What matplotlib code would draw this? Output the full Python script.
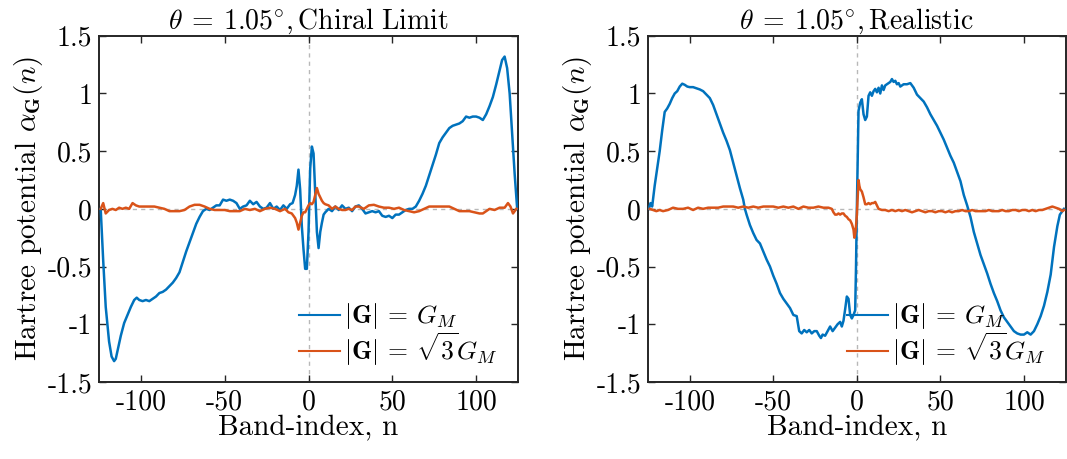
import matplotlib
matplotlib.use("Agg")
import matplotlib.pyplot as plt

plt.rcParams["font.family"] = "serif"
plt.rcParams["font.serif"] = ["cmr10", "DejaVu Serif"]
plt.rcParams["mathtext.fontset"] = "cm"
plt.rcParams["axes.formatter.use_mathtext"] = True

BLUE = (0.0, 0.447, 0.741)
ORANGE = (0.85, 0.325, 0.098)

# --- Chiral limit panel ---
chiral_blue_x = [-124, -122.5, -121, -119, -117.5, -116, -115, -113.5, -112, -110, -108, -106, -104,
                 -102.5, -101, -99, -97, -95, -93, -91, -89, -87, -85, -83, -81, -79, -77, -75, -73,
                 -71, -69, -67, -65, -63, -61, -59, -57, -55, -53, -51, -49, -47, -45, -43, -41, -39,
                 -37, -35, -33, -31, -29, -27, -25, -23, -21, -19, -17, -15, -13, -11, -9.5, -8, -7,
                 -6, -5, -4, -3, -2, -1, 0, 1, 2, 3, 4, 5, 6, 7, 8, 9, 10, 12, 14, 16, 18, 20, 22, 24,
                 26, 28, 30, 32, 34, 36, 38, 40, 42, 44, 46, 48, 50, 52, 54, 56, 58, 60, 62, 64, 66,
                 68, 70, 72, 74, 76, 78, 80, 82, 84, 86, 88, 90, 92, 94, 96, 98, 100, 102, 104, 106,
                 108, 110, 112, 114, 115.5, 117, 118.5, 120, 121.5, 123, 124.5]
chiral_blue_y = [0.0, -0.45, -0.85, -1.15, -1.28, -1.32, -1.30, -1.20, -1.10, -0.99, -0.92, -0.85,
                 -0.79, -0.77, -0.79, -0.80, -0.79, -0.80, -0.78, -0.76, -0.73, -0.72, -0.70, -0.67,
                 -0.64, -0.60, -0.55, -0.46, -0.37, -0.29, -0.21, -0.13, -0.07, -0.02, 0.0, -0.01,
                 0.01, 0.03, 0.03, 0.08, 0.07, 0.08, 0.07, 0.05, 0.0, 0.02, 0.03, 0.07, 0.04, 0.06,
                 0.02, 0.0, 0.01, 0.05, 0.0, 0.02, -0.01, 0.03, 0.0, 0.04, 0.05, 0.12, 0.2, 0.34,
                 0.17, -0.15, -0.35, -0.52, -0.52, -0.2, 0.35, 0.54, 0.48, 0.15, -0.2, -0.34, -0.2,
                 -0.12, -0.05, -0.03, 0.0, -0.02, 0.02, -0.01, 0.03, 0.0, 0.01, -0.02, 0.02, 0.03,
                 0.0, -0.04, -0.03, -0.02, -0.03, -0.02, -0.06, -0.07, -0.06, -0.08, -0.05, -0.05,
                 -0.03, -0.01, 0.0, 0.0, 0.02, 0.07, 0.13, 0.2, 0.29, 0.38, 0.47, 0.57, 0.62, 0.66,
                 0.70, 0.72, 0.73, 0.74, 0.76, 0.80, 0.79, 0.80, 0.80, 0.79, 0.77, 0.82, 0.89, 0.97,
                 1.08, 1.20, 1.29, 1.32, 1.22, 1.00, 0.65, 0.30, 0.0]

chiral_orange_x = [-124, -122.5, -121, -119, -117, -115, -113, -111, -109, -107, -105, -103, -101,
                   -98, -95, -92, -89, -86, -83, -80, -77, -74, -71, -68, -65, -62, -59, -56, -53,
                   -50, -47, -44, -41, -38, -35, -32, -29, -26, -23, -20, -17, -14, -12, -10, -8,
                   -7, -6, -5, -4, -3, -2, -1, 0, 1, 2, 3, 4, 5, 6, 7, 8, 9, 10, 12, 14, 16, 18, 20,
                   22, 24, 26, 28, 30, 33, 36, 39, 42, 45, 48, 51, 54, 57, 60, 63, 66, 69, 72, 75,
                   78, 81, 84, 87, 90, 93, 96, 99, 102, 104, 106, 108, 111, 114, 117, 119, 120.5,
                   122, 124]
chiral_orange_y = [0.0, 0.05, -0.04, -0.01, 0.0, -0.01, 0.01, 0.0, 0.01, 0.0, 0.05, 0.03, 0.02,
                   0.02, 0.02, 0.02, 0.01, 0.0, -0.02, -0.02, -0.02, -0.01, 0.02, 0.035, 0.035,
                   0.02, 0.0, -0.01, -0.01, -0.01, -0.02, -0.02, -0.02, 0.0, -0.01, 0.0, -0.02,
                   0.0, 0.01, 0.0, -0.02, 0.0, -0.03, -0.04, -0.08, -0.12, -0.18, -0.12, -0.06,
                   -0.03, -0.03, 0.0, 0.03, 0.05, 0.04, 0.06, 0.12, 0.18, 0.13, 0.10, 0.07, 0.05,
                   0.04, 0.03, 0.0, 0.02, 0.0, -0.01, -0.01, 0.0, -0.01, 0.02, 0.02, 0.0, 0.03,
                   0.035, 0.02, 0.01, 0.01, 0.0, 0.01, -0.01, -0.02, -0.03, -0.02, 0.0, 0.02, 0.02,
                   0.02, 0.02, 0.02, 0.0, -0.02, -0.02, -0.02, -0.03, -0.04, -0.04, -0.02, 0.0,
                   -0.01, 0.01, 0.01, 0.05, 0.02, -0.04, 0.0]

# --- Realistic panel ---
real_blue_x = [-124.5, -123.5, -122.5, -121, -119.5, -118, -116.5, -115, -113.5, -112, -110.5,
               -109, -107.5, -106, -104.5, -103, -101.5, -100, -98, -96, -94, -92, -90, -88, -86,
               -84, -82, -80, -78, -76, -74, -72, -70, -68, -67, -66, -64, -62, -60, -58, -56, -54,
               -52, -50, -48, -46, -44, -42, -40, -38, -36, -34.5, -33, -31.5, -30, -28.5, -27,
               -25.5, -24, -22.5, -21.5, -20.5, -19, -17.5, -16, -14.5, -13, -11.5, -10, -9, -8,
               -7, -6, -5, -4, -3, -2, -1, -0.5, 0, 0.5, 1, 2, 3, 4, 5, 6, 7, 8, 9, 10, 11, 12, 13,
               14, 15, 16, 17, 18, 20, 21, 22, 23, 24, 25, 26, 28, 30, 32, 34, 36, 38, 40, 42, 44,
               46, 48, 50, 52, 54, 56, 58, 60, 62, 64, 66, 68, 70, 72, 74, 76, 78, 80, 82, 84, 86,
               88, 90, 92, 94, 96, 98, 100, 102, 104, 106, 108, 110, 112, 114, 116, 118, 120,
               121.5, 122.5, 124]
real_blue_y = [0.0, 0.05, 0.02, 0.2, 0.35, 0.5, 0.68, 0.84, 0.87, 0.91, 0.96, 1.0, 1.02, 1.06,
               1.085, 1.075, 1.06, 1.055, 1.055, 1.045, 1.035, 1.02, 0.99, 0.96, 0.9, 0.82, 0.74,
               0.66, 0.59, 0.51, 0.4, 0.29, 0.18, 0.08, 0.0, -0.05, -0.14, -0.21, -0.27, -0.3,
               -0.37, -0.44, -0.5, -0.58, -0.65, -0.73, -0.78, -0.82, -0.86, -0.92, -0.93, -1.06,
               -1.08, -1.05, -1.07, -1.05, -1.08, -1.06, -1.06, -1.1, -1.12, -1.09, -1.1, -1.06,
               -1.02, -1.06, -1.03, -1.0, -0.98, -1.02, -0.97, -0.87, -0.76, -0.78, -0.92, -0.95,
               -0.92, -0.88, -0.5, 0.0, 0.4, 0.85, 0.92, 0.95, 0.82, 0.77, 0.8, 0.98, 1.01, 0.98,
               1.02, 1.04, 1.01, 1.05, 1.0, 1.07, 1.03, 1.07, 1.08, 1.1, 1.125, 1.1, 1.11, 1.08,
               1.09, 1.06, 1.08, 1.08, 1.09, 1.05, 0.99, 0.96, 0.93, 0.88, 0.82, 0.77, 0.72, 0.66,
               0.6, 0.53, 0.46, 0.4, 0.32, 0.24, 0.12, 0.03, -0.07, -0.2, -0.3, -0.4, -0.48,
               -0.56, -0.65, -0.73, -0.8, -0.88, -0.94, -0.98, -1.02, -1.06, -1.08, -1.09, -1.09,
               -1.07, -1.09, -1.06, -1.0, -0.93, -0.84, -0.72, -0.57, -0.33, -0.15, -0.05, -0.03,
               0.0]

real_orange_x = [-124, -122, -120, -118, -116, -113, -110, -107, -104, -101, -98, -95, -92, -89,
                 -86, -83, -80, -77, -74, -71, -68, -65, -62, -59, -56, -53, -50, -47, -44, -41,
                 -38, -35, -32, -29, -26, -23, -20, -17, -15, -14, -13, -12, -11, -10, -9, -8, -7,
                 -6, -5, -4, -3, -2, -1.5, -1, -0.5, 0, 0.5, 1, 1.5, 2, 3, 4, 5, 6, 7, 8, 9, 10, 11,
                 12, 13, 15, 17, 19, 21, 23, 25, 27, 29, 31, 33, 35, 37, 39, 41, 43, 45, 47, 49, 51,
                 53, 55, 57, 59, 61, 63, 65, 67, 69, 71, 73, 75, 77, 79, 81, 83, 85, 87, 89, 91,
                 93, 95, 97, 99, 101, 103, 105, 107, 109, 111, 113, 115, 117, 119, 121, 123, 124]
real_orange_y = [0.0, -0.01, -0.02, -0.01, -0.02, -0.01, 0.01, 0.0, 0.0, 0.01, -0.01, 0.01, 0.0,
                 0.01, 0.01, 0.01, 0.02, 0.02, 0.02, 0.01, 0.02, 0.01, 0.02, 0.01, 0.02, 0.02,
                 0.02, 0.01, 0.02, 0.01, 0.02, 0.0, 0.02, 0.01, 0.01, 0.02, 0.01, 0.01, 0.0, -0.03,
                 -0.05, -0.05, -0.04, -0.05, -0.04, -0.04, -0.06, -0.07, -0.09, -0.1, -0.13, -0.18,
                 -0.25, -0.22, -0.15, -0.05, 0.1, 0.25, 0.2, 0.17, 0.15, 0.1, 0.04, 0.04, 0.05,
                 0.04, 0.05, 0.05, 0.06, 0.03, 0.0, -0.01, -0.01, -0.02, -0.01, -0.02, -0.01,
                 -0.02, -0.01, -0.02, -0.03, -0.02, -0.01, -0.02, -0.03, -0.02, -0.02, -0.03,
                 -0.02, -0.02, -0.03, -0.02, -0.03, -0.02, -0.02, -0.01, -0.02, -0.02, -0.01,
                 -0.02, -0.02, -0.02, -0.02, -0.01, -0.02, -0.02, -0.02, -0.01, -0.02, -0.02,
                 -0.01, -0.01, -0.02, -0.01, -0.01, -0.02, -0.01, -0.02, -0.01, -0.01, 0.0, 0.01,
                 0.02, 0.01, 0.0, -0.02, -0.01]

titles = [r"$\theta\:=\:1.05^{\circ}, \mathrm{Chiral\ Limit}$",
          r"$\theta\:=\:1.05^{\circ}, \mathrm{Realistic}$"]
x_ticks = [-100, -50, 0, 50, 100]
x_tick_labels = ["-100", "-50", "0", "50", "100"]
y_ticks = [-1.5, -1, -0.5, 0, 0.5, 1, 1.5]
y_tick_labels = ["-1.5", "-1", "-0.5", "0", "0.5", "1", "1.5"]
legend_labels = [r"$|\mathbf{G}|\:=\,G_M$", r"$|\mathbf{G}|\:=\,\sqrt{3}G_M$"]

fig = plt.figure(figsize=(10.67, 4.59), dpi=100)
ax_left = fig.add_axes([0.0928, 0.168, 0.3927, 0.754])
ax_right = fig.add_axes([0.6073, 0.168, 0.3915, 0.754])

panels = [
    (ax_left, chiral_blue_x, chiral_blue_y, chiral_orange_x, chiral_orange_y, titles[0]),
    (ax_right, real_blue_x, real_blue_y, real_orange_x, real_orange_y, titles[1]),
]

for ax, bx, by, ox, oy, title in panels:
    ax.axhline(0, color=(0.72, 0.72, 0.72), linestyle="--", linewidth=1.0, dashes=(3, 3), zorder=1)
    ax.axvline(0, color=(0.72, 0.72, 0.72), linestyle="--", linewidth=1.0, dashes=(3, 3), zorder=1)
    ax.plot(bx, by, color=BLUE, linewidth=1.8, label=legend_labels[0], zorder=3)
    ax.plot(ox, oy, color=ORANGE, linewidth=1.8, label=legend_labels[1], zorder=3)
    ax.set_xlim(-125, 125)
    ax.set_ylim(-1.5, 1.5)
    ax.set_xticks(x_ticks)
    ax.set_xticklabels(x_tick_labels)
    ax.set_yticks(y_ticks)
    ax.set_yticklabels(y_tick_labels)
    ax.tick_params(direction="in", top=True, right=True, length=5, width=1.0,
                   labelsize=20, color=(0.15, 0.15, 0.15), pad=5)
    for spine in ax.spines.values():
        spine.set_linewidth(1.4)
        spine.set_color((0.15, 0.15, 0.15))
    ax.set_title(title, fontsize=20, pad=5)
    ax.set_xlabel("Band-index, n", fontsize=21, labelpad=0)
    ax.set_ylabel(r"Hartree potential $\alpha_{\mathbf{G}}(n)$", fontsize=21, labelpad=2)
    leg = ax.legend(loc="lower right", frameon=False, fontsize=18.5, handlelength=1.6,
                    handletextpad=0.15, labelspacing=-0.05, borderaxespad=0.15,
                    bbox_to_anchor=(0.985, 0.0))
    for line in leg.get_lines():
        line.set_linewidth(1.5)

fig.savefig("out.png", dpi=100)
